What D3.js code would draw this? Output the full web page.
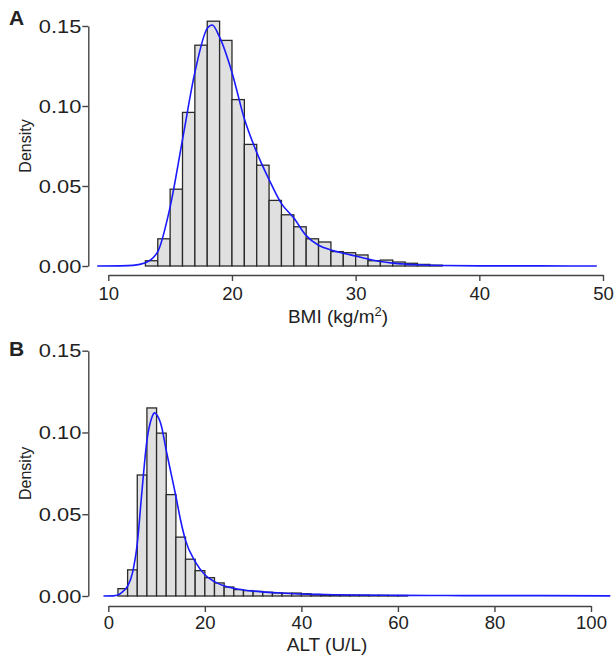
<!DOCTYPE html>
<html>
<head>
<meta charset="utf-8">
<script src="https://cdn.jsdelivr.net/npm/d3@7"></script>
<style>
  body { margin: 0; background: #fff; }
  text { font-family: "Liberation Sans", Arial, sans-serif; fill: #222; }
</style>
</head>
<body>
<script>
// --- data ---

// Panel A : BMI, bins of 1 kg/m2 starting at 13
const bmiBinStart = [13,14,15,16,17,18,19,20,21,22,23,24,25,26,27,28,29,30,31,32,33,34,35,36];
const bmiDensity = [0.0033,0.017,0.048,0.096,0.138,0.153,0.141,0.104,0.076,0.063,0.041,0.032,0.0245,0.017,0.015,0.009,0.0083,0.0069,0.0033,0.0037,0.0025,0.0017,0.001,0.0005];
const bmiCurveX = [9.1,11,12,13,14,15,16,17,18,18.4,19,20,21,22,23,24,25,26,27,28,29,30,31,32,33,34,35,37,40,45,49.5];
const bmiCurveY = [0,0.0001,0.0004,0.002,0.009,0.037,0.079,0.121,0.1485,0.1506,0.143,0.121,0.092,0.071,0.054,0.039,0.030,0.019,0.013,0.010,0.008,0.0062,0.0044,0.0028,0.0018,0.0012,0.0008,0.0003,0.0001,0.00005,0];
const bmiTicks = [10,20,30,40,50];

// Panel B : ALT, bins of 2 U/L starting at 2
const altBinStart = [2,4,6,8,10,12,14,16,18,20,22,24,26,28,30,32,34,36,38,40,42,44,46,48,50,52,54,56,58,60];
const altDensity = [0.0045,0.016,0.074,0.115,0.0996,0.062,0.036,0.0225,0.0155,0.0112,0.008,0.0055,0.0039,0.0033,0.0028,0.0023,0.0019,0.0017,0.0018,0.0014,0.0009,0.0008,0.0007,0.0006,0.0005,0.0005,0.0004,0.0004,0.0003,0.0003];
const altCurveX = [-1,1,2,3,4,5,6,7,8,9,9.6,10,11,12,13,14,15,16,18,20,22,25,28,32,36,40,45,50,60,70,80,90,104];
const altCurveY = [0,0.0001,0.0006,0.0027,0.006,0.014,0.032,0.065,0.095,0.109,0.112,0.111,0.104,0.089,0.075,0.061,0.046,0.034,0.021,0.013,0.0088,0.0053,0.0037,0.0025,0.0018,0.0012,0.0009,0.0006,0.0004,0.0003,0.0002,0.0002,0.0001];
const altTicks = [0,20,40,60,80,100];

const yTicks = [0, 0.05, 0.10, 0.15];

// --- drawing ---
const svg = d3.select("body").append("svg").attr("width", 616).attr("height", 663);

function panel(o) {
  const g = svg.append("g");
  const x = d3.scaleLinear().domain(o.xDomain).range(o.xRange);
  const y = d3.scaleLinear().domain([0, 0.15]).range(o.yRange);

  // bars
  g.selectAll("rect").data(o.bins).enter().append("rect")
    .attr("x", (d, i) => x(d))
    .attr("width", (d, i) => x(d + o.binW) - x(d))
    .attr("y", (d, i) => y(o.dens[i]))
    .attr("height", (d, i) => y(0) - y(o.dens[i]))
    .attr("fill", "#e0e0e0").attr("stroke", "#2a2a2a").attr("stroke-width", 1.3);

  // density curve
  const line = d3.line().x(d => x(d[0])).y(d => y(d[1])).curve(d3.curveMonotoneX);
  g.append("path").datum(d3.zip(o.cx, o.cy))
    .attr("d", line).attr("fill", "none").attr("stroke", "#1a1aff").attr("stroke-width", 1.6);

  // y axis
  const ya = g.append("g").attr("transform", `translate(${o.yAxisX},0)`)
    .call(d3.axisLeft(y).tickValues(yTicks).tickFormat(d3.format(".2f")).tickSize(6).tickSizeOuter(0).tickPadding(1));
  // x axis
  const xa = g.append("g").attr("transform", `translate(0,${o.xAxisY})`)
    .call(d3.axisBottom(x).tickValues(o.xTicks).tickSize(6).tickSizeOuter(0).tickPadding(o.xPad));
  [ya, xa].forEach(a => {
    a.select(".domain").attr("stroke", "#444").attr("stroke-width", 1.4);
    a.selectAll(".tick line").attr("stroke", "#444").attr("stroke-width", 1.4);
    a.selectAll(".tick text").attr("fill", "#222")
      .attr("font-family", "Liberation Sans, Arial, sans-serif");
  });
  xa.selectAll(".tick text").attr("font-size", 18.5);
  // y tick labels are drawn a little wider in the original
  ya.selectAll(".tick text").attr("font-size", 19)
    .attr("x", -7 / 1.15).attr("transform", "scale(1.15,1)");

  // labels
  g.append("text").attr("transform", `translate(31,${(o.yRange[0] + o.yRange[1]) / 2}) rotate(-90)`)
    .attr("text-anchor", "middle").attr("font-size", 16).text("Density");
  const xl = g.append("text").attr("x", o.xLabelX).attr("y", o.xLabelY)
    .attr("text-anchor", "middle").attr("font-size", 19);
  o.xLabel(xl);
  g.append("text").attr("x", 9).attr("y", o.letterY).attr("font-size", 21)
    .attr("font-weight", "bold").text(o.letter);
}

panel({
  bins: bmiBinStart, dens: bmiDensity, binW: 1, cx: bmiCurveX, cy: bmiCurveY,
  xDomain: [10, 50], xRange: [108.3, 603], yRange: [266, 26],
  yAxisX: 88.3, xAxisY: 275, xTicks: bmiTicks, xPad: 6,
  xLabelX: 338, xLabelY: 323, letter: "A", letterY: 25,
  xLabel: t => { t.append("tspan").text("BMI (kg/m");
                 t.append("tspan").attr("font-size", 13).attr("dy", -7).text("2");
                 t.append("tspan").attr("dy", 7).text(")"); }
});

panel({
  bins: altBinStart, dens: altDensity, binW: 2, cx: altCurveX, cy: altCurveY,
  xDomain: [0, 100], xRange: [108.3, 591], yRange: [596, 350.7],
  yAxisX: 88.3, xAxisY: 606, xTicks: altTicks, xPad: 4,
  xLabelX: 327, xLabelY: 651, letter: "B", letterY: 356,
  xLabel: t => t.text("ALT (U/L)")
});
</script>
</body>
</html>
